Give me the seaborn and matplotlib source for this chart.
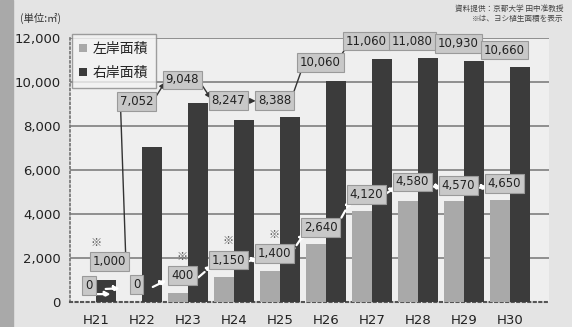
import numpy as np
import pandas as pd
import matplotlib
matplotlib.use("Agg")
import matplotlib.pyplot as plt
import seaborn as sns
from matplotlib.patches import Patch

years = ["H21", "H22", "H23", "H24", "H25", "H26", "H27", "H28", "H29", "H30"]
left_bank = [0, 0, 400, 1150, 1400, 2640, 4120, 4580, 4570, 4650]
right_bank = [1000, 7052, 9048, 8247, 8388, 10060, 11060, 11080, 10930, 10660]
series_names = ["左岸面積", "右岸面積"]
yoshi_mark = [True, False, True, True, True, False, False, False, False, False]
yticks = [0, 2000, 4000, 6000, 8000, 10000, 12000]

# layout offsets for the value boxes (data units)
left_off = [730, 770, 780, 750, 780, 760, 780, 870, 730, 750]
right_off = [820, 2040, 1040, 890, 750, 840, 800, 780, 800, 790]

sns.set_theme(style="white")
plt.rcParams["font.family"] = ["DejaVu Sans", "Noto Sans CJK JP"]

df = pd.DataFrame({
    "year": years * 2,
    "area": left_bank + right_bank,
    "series": [series_names[0]] * len(years) + [series_names[1]] * len(years),
})

fig = plt.figure(figsize=(5.72, 3.27), dpi=100, facecolor="#e4e4e4")
fig.patches.append(plt.Rectangle((0, 0), 0.022, 1, transform=fig.transFigure,
                                 color="#a9a9a9", zorder=0))
ax = fig.add_axes([0.122, 0.077, 0.838, 0.807])
ax.set_facecolor("#efefef")

sns.barplot(data=df, x="year", y="area", hue="series", order=years,
            hue_order=series_names, palette=["#a9a9a9", "#3b3b3b"],
            width=0.86, gap=0.0, ax=ax, legend=False, zorder=3,
            edgecolor="none")

ax.set_ylim(0, 12000)
ax.set_xlim(-0.57, 9.85)
ax.set_yticks(yticks)
ax.set_yticklabels([f"{v:,}" for v in yticks], fontsize=9.5, color="#222222")
ax.tick_params(axis="x", labelsize=9.5, colors="#222222", pad=6, length=3,
               direction="out")
ax.tick_params(axis="y", length=3, direction="out")
ax.set_xlabel("")
ax.set_ylabel("")
for y in yticks[1:]:
    ax.axhline(y, color="#8f8f8f", lw=1.4, zorder=1)
for s in ["top", "right"]:
    ax.spines[s].set_visible(False)
ax.spines["left"].set_color("#777777")
ax.spines["left"].set_linestyle(":")
ax.spines["bottom"].set_color("#555555")
ax.spines["bottom"].set_linestyle(":")
ax.spines["bottom"].set_linewidth(1.5)

box = dict(boxstyle="square,pad=0.25", fc="#c8c8c8", ec="#9a9a9a", lw=0.8)
xs = np.arange(len(years)).astype(float)
lx = xs - 0.12
rx = xs - 0.12
lx[0] = -0.15
rx[0] = 0.3
ly = [v + o for v, o in zip(left_bank, left_off)]
ry = [v + o for v, o in zip(right_bank, right_off)]

for i in range(len(years)):
    ax.text(lx[i], ly[i], f"{left_bank[i]:,}", ha="center", va="center",
            fontsize=8.5, color="#222222", bbox=box, zorder=6)
    ax.text(rx[i], ry[i], f"{right_bank[i]:,}", ha="center", va="center",
            fontsize=8.5, color="#222222", bbox=box, zorder=6)
    if yoshi_mark[i]:
        ax.text(lx[i] + (0.15 if i == 0 else 0.0),
                (ry[i] if i == 0 else ly[i]) + 850, "※", ha="center",
                va="center", fontsize=8, color="#555555", zorder=6,
                family=["Noto Sans CJK JP", "DejaVu Sans"])

for i in range(len(years) - 1):
    ax.annotate("", xy=(lx[i + 1] - 0.3, ly[i + 1] - 150),
                xytext=(lx[i] + 0.3, ly[i] - 150),
                arrowprops=dict(arrowstyle="-|>", color="white", lw=1.6,
                                ls="--", mutation_scale=8), zorder=5)
    ax.annotate("", xy=(rx[i + 1] - 0.35, ry[i + 1]),
                xytext=(rx[i] + 0.35, ry[i]),
                arrowprops=dict(arrowstyle="-|>", color="#333333", lw=1.0,
                                mutation_scale=8), zorder=5)
ax.annotate("", xy=(0.38, 350), xytext=(-0.05, 350),
            arrowprops=dict(arrowstyle="-|>", color="white", lw=1.6,
                            ls="--", mutation_scale=8), zorder=5)

handles = [Patch(fc="#a9a9a9", ec="none"), Patch(fc="#3b3b3b", ec="none")]
leg = ax.legend(handles, series_names, loc="upper left",
                bbox_to_anchor=(0.004, 1.015), frameon=True,
                handlelength=0.55, handleheight=0.55, handletextpad=0.4,
                labelspacing=0.75, borderpad=0.55, borderaxespad=0.0,
                fancybox=False,
                prop={"family": ["Noto Sans CJK JP"], "size": 10})
leg.get_frame().set_facecolor("#f4f4f4")
leg.get_frame().set_edgecolor("#888888")
leg.set_zorder(7)

fig.text(0.035, 0.945, "(単位:㎡)", fontsize=7.5, color="#333333",
         family=["Noto Sans CJK JP", "DejaVu Sans"], va="center")
fig.text(0.985, 0.985, "資料提供：京都大学 田中准教授\n※は、ヨシ植生面積を表示",
         fontsize=5.5, color="#444444", ha="right", va="top",
         family=["Noto Sans CJK JP", "DejaVu Sans"], linespacing=1.3)

fig.savefig("out.png", dpi=100, facecolor=fig.get_facecolor())
